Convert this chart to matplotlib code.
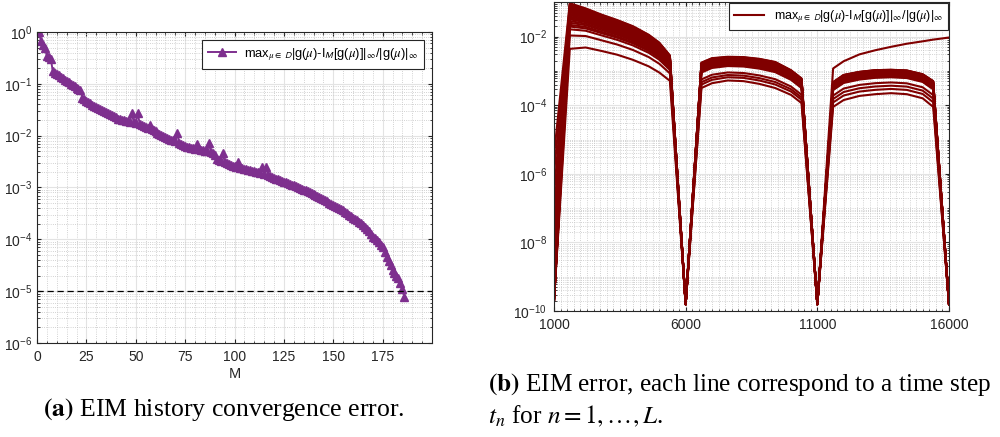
import numpy as np
import matplotlib
matplotlib.use("Agg")
import matplotlib.pyplot as plt
from matplotlib.ticker import MultipleLocator, FixedLocator, LogLocator, NullFormatter

plt.rcParams['font.family'] = ['Liberation Sans', 'DejaVu Sans']
plt.rcParams['mathtext.fontset'] = 'stix'

# (a) EIM history: log10 of the error for M = 1..186
eim_log10 = [
    0.00, -0.18, -0.25, -0.32, -0.46, -0.49, -0.52, -0.76, -0.79, -0.81,
    -0.84, -0.87, -0.89, -0.92, -0.95, -0.97, -1.00, -1.03, -1.05, -1.08,
    -1.10, -1.13, -1.27, -1.30, -1.33, -1.35, -1.38, -1.41, -1.43, -1.45,
    -1.47, -1.49, -1.51, -1.53, -1.55, -1.57, -1.59, -1.61, -1.63, -1.65,
    -1.67, -1.68, -1.69, -1.70, -1.71, -1.72, -1.73, -1.57, -1.74, -1.75,
    -1.57, -1.77, -1.79, -1.81, -1.83, -1.85, -1.80, -1.88, -1.90, -1.92,
    -1.94, -1.96, -1.98, -2.00, -2.02, -2.04, -2.06, -2.08, -2.09, -2.11,
    -1.95, -2.15, -2.17, -2.19, -2.20, -2.21, -2.22, -2.23, -2.24, -2.25,
    -2.17, -2.26, -2.27, -2.28, -2.29, -2.30, -2.14, -2.31, -2.33, -2.38,
    -2.45, -2.47, -2.48, -2.33, -2.50, -2.52, -2.54, -2.56, -2.58, -2.59,
    -2.60, -2.50, -2.62, -2.63, -2.64, -2.65, -2.66, -2.67, -2.68, -2.69,
    -2.70, -2.71, -2.72, -2.60, -2.74, -2.61, -2.76, -2.78, -2.80, -2.81,
    -2.83, -2.84, -2.86, -2.87, -2.89, -2.90, -2.92, -2.93, -2.95, -2.96,
    -2.98, -2.99, -3.01, -3.02, -3.04, -3.05, -3.07, -3.09, -3.11, -3.13,
    -3.15, -3.17, -3.19, -3.21, -3.23, -3.25, -3.27, -3.29, -3.31, -3.33,
    -3.35, -3.37, -3.39, -3.42, -3.44, -3.47, -3.50, -3.53, -3.55, -3.58,
    -3.60, -3.63, -3.66, -3.69, -3.72, -3.76, -3.80, -3.84, -3.89, -3.95,
    -3.98, -4.02, -4.06, -4.10, -4.14, -4.24, -4.34, -4.42, -4.50, -4.59,
    -4.65, -4.70, -4.75, -4.85, -4.95, -5.11,
]
tolerance = 1e-5

# (b) EIM error per time step
x_time = [1000, 1600, 2200, 2800, 3400, 4000, 4600, 5000, 5400, 6000,
          6600, 7000, 7600, 8200, 8800, 9400, 10000, 10400, 11000,
          11600, 12000, 12600, 13200, 13800, 14400, 15000, 15400, 16000]
dip_log10 = -9.8

arch1_top = [-1.03, -1.18, -1.36, -1.52, -1.70, -1.95, -2.18, -2.55]
arch1_low = [-2.36, -2.32, -2.42, -2.53, -2.68, -2.87, -3.05, -3.29]
arch2_top = [-2.76, -2.63, -2.59, -2.60, -2.65, -2.74, -2.98, -3.22]
arch2_low = [-3.50, -3.36, -3.28, -3.30, -3.38, -3.50, -3.70, -3.94]
arch3_top = [-3.33, -3.12, -3.03, -2.98, -2.97, -2.99, -3.10, -3.30]
arch3_low = [-4.05, -3.85, -3.73, -3.68, -3.65, -3.68, -3.80, -4.05]

# level of each time-step line at the start of each arch
lines_t1000 = [-9.7, -9.7, -9.6, -9.5, -9.7, -9.4, -9.7, -9.2, -9.7, -9.0, -9.7, -8.7,
               -9.7, -8.3, -9.7, -7.8, -9.7, -7.2, -9.7, -6.6, -9.7, -6.0, -9.7, -5.45]
lines_arch1 = [-2.36, -1.97, -1.79, -1.71, -1.66, -1.60, -1.55, -1.50, -1.46, -1.42, -1.38, -1.34,
               -1.30, -1.27, -1.24, -1.21, -1.18, -1.15, -1.13, -1.11, -1.09, -1.07, -1.05, -1.03]
lines_arch2 = [-3.50, -3.40, -3.33, -3.25, -3.05, -3.02, -3.00, -2.98, -2.96, -2.94, -2.92, -2.90,
               -2.88, -2.86, -2.85, -2.84, -2.83, -2.82, -2.81, -2.80, -2.79, -2.78, -2.77, -2.76]
lines_arch3 = [-4.05, -3.92, -3.82, -3.72, -3.56, -3.54, -3.52, -3.50, -3.48, -3.46, -3.45, -3.44,
               -3.43, -3.42, -3.41, -3.40, -3.39, -3.38, -3.37, -3.36, -3.35, -3.34, -3.33, -3.33]

# last time step: grows in the third arch and does not dip at 16000
last_step_log10 = [-9.7, -1.20, -1.33, -1.49, -1.64, -1.82, -2.05, -2.26, -2.62, -9.8,
                   -2.85, -2.72, -2.67, -2.68, -2.74, -2.84, -3.07, -3.31, -9.8,
                   -2.93, -2.72, -2.52, -2.40, -2.30, -2.21, -2.14, -2.09, -2.03]

legend_label = (r'max$_{\mu\in\ \mathsf{D}}$|g($\mu$)-I$_{\mathsf{M}}$[g($\mu$)]|$_{\infty}$'
                r'/|g($\mu$)|$_{\infty}$')

purple = '#7E2F8E'
darkred = '#800000'
axcol = '#262626'


def arch(level, top, low):
    f = (level - low[0]) / (top[0] - low[0])
    return [lo + f * (tp - lo) for tp, lo in zip(top, low)]


def style(ax):
    ax.tick_params(which='both', direction='in', top=True, right=True, colors=axcol,
                   labelsize=10, length=3)
    ax.tick_params(which='minor', length=1.8)
    ax.tick_params(axis='x', pad=5)
    ax.grid(True, which='major', color='#e3e3e3', linewidth=0.8, linestyle='-')
    ax.grid(True, which='minor', color='#c4c4c4', linewidth=0.6, linestyle=':')
    ax.set_axisbelow(True)
    for s in ax.spines.values():
        s.set_color(axcol)
        s.set_linewidth(0.8)


fig = plt.figure(figsize=(10, 4.37), dpi=100)

# ---- left panel
ax1 = fig.add_axes([0.037, 0.215, 0.395, 0.712])
M = np.arange(1, len(eim_log10) + 1)
ax1.semilogy(M, 10.0 ** np.array(eim_log10), color=purple, marker='^', markersize=6,
             linewidth=1.4, label=legend_label)
ax1.axhline(tolerance, color='k', linestyle=(0, (5, 3)), linewidth=0.9)
ax1.set_xlim(0, 200)
ax1.set_ylim(1e-6, 1)
ax1.xaxis.set_major_locator(FixedLocator([0, 25, 50, 75, 100, 125, 150, 175]))
ax1.xaxis.set_minor_locator(MultipleLocator(5))
ax1.yaxis.set_major_locator(LogLocator(base=10, numticks=20))
ax1.yaxis.set_minor_locator(LogLocator(base=10, subs=np.arange(2, 10), numticks=20))
ax1.yaxis.set_minor_formatter(NullFormatter())
ax1.set_xlabel('M', fontsize=10.5, color=axcol, labelpad=2)
style(ax1)
leg1 = ax1.legend(loc='upper right', fontsize=9.3, fancybox=False, framealpha=1,
                  edgecolor=axcol, borderaxespad=0.65, handlelength=2.2, borderpad=0.45,
                  handletextpad=0.6)
leg1.get_frame().set_linewidth(0.8)

# ---- right panel
ax2 = fig.add_axes([0.554, 0.288, 0.395, 0.707])
n_lines = len(lines_arch1)
for k in range(n_lines):
    y = ([lines_t1000[k]] + arch(lines_arch1[k], arch1_top, arch1_low) + [dip_log10]
         + arch(lines_arch2[k], arch2_top, arch2_low) + [dip_log10]
         + arch(lines_arch3[k], arch3_top, arch3_low) + [dip_log10])
    ax2.semilogy(x_time, 10.0 ** np.array(y), color=darkred, linewidth=1.5,
                 label=legend_label if k == 0 else None)
ax2.semilogy(x_time, 10.0 ** np.array(last_step_log10), color=darkred, linewidth=1.5)
ax2.set_xlim(1000, 16000)
ax2.set_ylim(1e-10, 1e-1)
ax2.xaxis.set_major_locator(FixedLocator([1000, 6000, 11000, 16000]))
ax2.xaxis.set_minor_locator(MultipleLocator(250))
ax2.yaxis.set_major_locator(FixedLocator([1e-10, 1e-8, 1e-6, 1e-4, 1e-2]))
ax2.yaxis.set_minor_locator(LogLocator(base=10, subs=np.arange(1, 10), numticks=20))
ax2.yaxis.set_minor_formatter(NullFormatter())
style(ax2)
ax2.tick_params(axis='y', pad=5)
leg2 = ax2.legend(loc='upper right', fontsize=9.0, fancybox=False, framealpha=1,
                  edgecolor=axcol, borderaxespad=0.1, handlelength=2.4, borderpad=0.4)
leg2.get_frame().set_linewidth(0.8)

# ---- captions
serif = ['Liberation Serif', 'DejaVu Serif']
fig.text(0.224, 0.062, r'$\mathbf{(a)}$ EIM history convergence error.', family=serif,
         fontsize=18.5, ha='center', va='center')
fig.text(0.488, 0.119, r'$\mathbf{(b)}$ EIM error, each line correspond to a time step',
         family=serif, fontsize=18.2, ha='left', va='center')
fig.text(0.488, 0.047, r'$t_n$ for $n = 1,\ldots,L$.', family=serif,
         fontsize=18.2, ha='left', va='center')

fig.savefig('out.png', dpi=100)
